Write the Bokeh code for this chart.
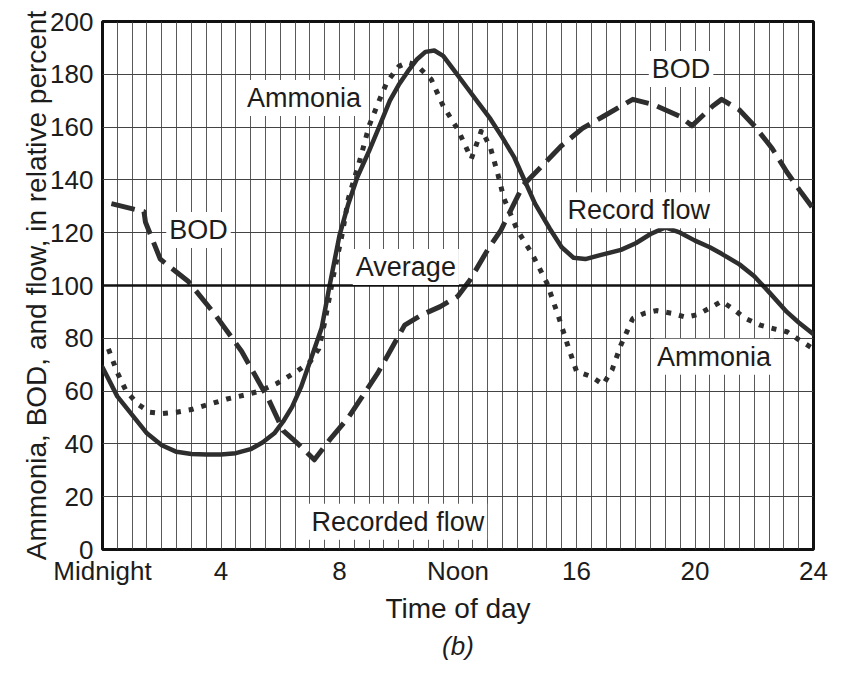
from bokeh.plotting import figure
from bokeh.models import (Label, Span, FixedTicker, Title, Range1d)
from bokeh.embed import file_html
from bokeh.resources import INLINE

# ---- data (hour of day, relative percent) ----
flow_hour = [0, 0.5, 1.0, 1.5, 2.0, 2.5, 3.0, 3.5, 4.0, 4.5, 5.0, 5.4, 5.8, 6.1, 6.4, 6.7,
             7.0, 7.4, 7.65, 8.0, 8.3, 8.6, 9.0, 9.3, 9.7, 10.0, 10.3, 10.6, 10.9, 11.2,
             11.5, 11.9, 12.3, 12.7, 13.1, 13.5, 13.9, 14.2, 14.6, 15.1, 15.5, 15.9, 16.3,
             16.8, 17.5, 18.0, 18.5, 19.0, 19.5, 20.0, 20.5, 20.9, 21.5, 22.0, 22.5, 23.1,
             23.5, 24.0]
flow_value = [69, 58, 51, 44, 39.5, 37, 36.2, 36, 36, 36.5, 38, 40.5, 44, 48.5, 54, 61.5,
              71, 84, 99, 119, 131, 141, 151, 159, 170, 176, 181, 185.5, 188.5, 189,
              187, 181, 175, 169, 163, 156, 148.5, 141, 131, 121.5, 114.5, 110.5, 110,
              111.5, 113.5, 116, 119.5, 122, 120, 117, 114.5, 112, 108, 103.5, 97.5, 90,
              86, 81.5]

ammonia_hour = [0.2, 0.5, 0.8, 1.2, 1.6, 2.0, 2.5, 3.0, 3.6, 4.2, 4.8, 5.3, 5.9, 6.5, 7.0,
                7.3, 7.5, 7.8, 8.1, 8.3, 8.7, 9.0, 9.3, 9.6, 10.0, 10.3, 10.6, 11.1, 11.5,
                12.0, 12.45, 12.8, 13.1, 13.35, 13.55, 14.0, 14.5, 15.0, 15.4, 15.7, 16.0,
                16.5, 16.9, 17.2, 17.5, 17.9, 18.3, 18.7, 19.2, 19.7, 20.1, 20.5, 20.9,
                21.3, 21.7, 22.2, 22.7, 23.1, 23.5, 24.0]
ammonia_value = [76, 67, 60, 55, 52, 51.5, 52, 53, 55, 57, 58.5, 60, 63, 67, 71,
                 76, 86, 104, 120, 133, 148, 160.5, 169, 177, 183, 184.5, 183.5, 178, 168,
                 159, 148, 159, 152, 142, 133, 121, 112, 101, 88, 77.5, 67.5,
                 65.5, 62.5, 68, 77.5, 87.5, 89.5, 90.5, 89.5, 88, 89, 91.5, 94,
                 91, 87.5, 85, 83.5, 82.5, 79.5, 76]

bod_hour = [0.3, 1.4, 1.45, 1.95, 2.9, 3.8, 4.7, 5.6, 5.85, 6.1, 6.6, 7.15, 7.7, 8.3, 9.3,
            10.2, 10.8, 11.4, 12.0, 12.4, 13.0, 13.45, 14.2, 14.9, 15.5, 16.2, 16.9, 17.9,
            18.6, 19.5, 19.9, 20.6, 20.9, 21.5, 22.0, 22.6, 23.1, 23.6, 24.0]
bod_value = [131, 128, 124, 110, 101.5, 89, 75, 57, 51, 45, 40, 34, 42, 50, 67,
             85, 89, 92, 96, 102, 113.5, 121, 138, 146, 153, 159.5, 164, 170.5,
             168.5, 164, 160.5, 168, 170.5, 166.5, 160.5, 152, 143, 135, 129]

average_level = 100

x_ticks = [0, 4, 8, 12, 16, 20, 24]
x_tick_labels = ["Midnight", "4", "8", "Noon", "16", "20", "24"]
y_ticks = [0, 20, 40, 60, 80, 100, 120, 140, 160, 180, 200]
x_grid = [i * 0.5 for i in range(49)]

# label text, and where it sits (hour, percent)
label_texts = ["Ammonia", "BOD", "Average", "BOD", "Record flow", "Ammonia", "Recorded flow"]
label_x = [6.8, 3.24, 10.24, 19.53, 18.1, 20.64, 9.97]
label_y = [171, 121, 107, 182, 128.5, 73, 10.5]

FONT = "Liberation Sans"
INK = "#1c1c1c"
LINE = "#2e2e2e"

p = figure(width=830, height=662, output_backend="svg", toolbar_location=None,
           x_range=Range1d(0, 24), y_range=Range1d(0, 200),
           min_border_left=102, min_border_right=17, min_border_top=21,
           min_border_bottom=104, background_fill_color="white",
           border_fill_color="white")

p.outline_line_color = "#111111"
p.outline_line_width = 3

# grids
p.xgrid.ticker = FixedTicker(ticks=x_grid)
p.xgrid.grid_line_color = "#3c3c3c"
p.xgrid.grid_line_width = 1
p.xgrid.grid_line_alpha = 0.85
p.ygrid.ticker = FixedTicker(ticks=y_ticks)
p.ygrid.grid_line_color = "#444444"
p.ygrid.grid_line_width = 1.2

# axes
p.xaxis.ticker = FixedTicker(ticks=x_ticks)
p.xaxis.major_label_overrides = {t: s for t, s in zip(x_ticks, x_tick_labels)}
p.yaxis.ticker = FixedTicker(ticks=y_ticks)
for ax in (p.xaxis[0], p.yaxis[0]):
    ax.axis_line_color = None
    ax.major_tick_out = 0
    ax.major_tick_in = 0
    ax.minor_tick_out = 0
    ax.minor_tick_in = 0
    ax.major_label_text_font = FONT
    ax.major_label_text_font_size = "26px"
    ax.major_label_text_color = INK
    ax.axis_label_text_font = FONT
    ax.axis_label_text_font_style = "normal"
    ax.axis_label_text_color = INK

p.xaxis.axis_label = "Time of day"
p.xaxis.axis_label_text_font_size = "28px"
p.xaxis.major_label_standoff = 6
p.xaxis.axis_label_standoff = 4
p.yaxis.axis_label = "Ammonia, BOD, and flow, in relative percent"
p.yaxis.axis_label_text_font_size = "28px"
p.yaxis.major_label_standoff = 9
p.yaxis.axis_label_standoff = -5

p.add_layout(Title(text="(b)", align="center", text_font=FONT, text_font_size="26px",
                   text_font_style="italic", text_color=INK, standoff=4), "below")

# average line
p.add_layout(Span(location=average_level, dimension="width", line_color="#111111",
                  line_width=2.5))

# series
p.line(flow_hour, flow_value, line_color=LINE, line_width=4.5, line_join="round",
       line_cap="round")
p.line(bod_hour, bod_value, line_color=LINE, line_width=5, line_dash="24 9",
       line_join="round")
p.line(ammonia_hour, ammonia_value, line_color=LINE, line_width=5, line_dash="5 8",
       line_cap="butt")

for t, x, y in zip(label_texts, label_x, label_y):
    p.add_layout(Label(x=x, y=y, text=t, text_align="center", text_baseline="middle",
                       text_font=FONT, text_font_size="27px", text_color=INK,
                       background_fill_color="white", padding=3))

open("out.html", "w").write(file_html(p, INLINE))
